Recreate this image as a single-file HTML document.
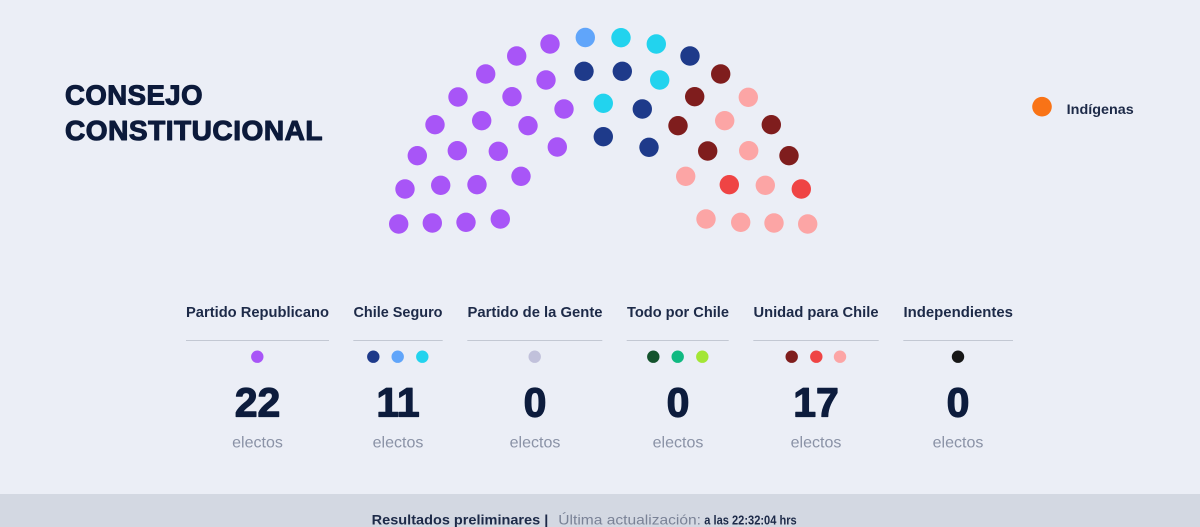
<!DOCTYPE html>
<html>
<head>
<meta charset="utf-8">
<style>
  html,body{margin:0;padding:0;background:#ebeef6;}
  body{width:1200px;height:527px;overflow:hidden;font-family:"Liberation Sans",sans-serif;}
  svg{display:block;}
</style>
</head>
<body>
<svg width="1200" height="527" viewBox="0 0 1200 527" xmlns="http://www.w3.org/2000/svg" font-family="Liberation Sans, sans-serif">
  <rect x="0" y="0" width="1200" height="494" fill="#ebeef6"/>
  <rect x="0" y="494" width="1200" height="33" fill="#d3d8e2"/>

  <!-- Title -->
  <g stroke="#0c1a3b" stroke-width="1.1" stroke-linejoin="round">
  <text x="65" y="104.5" font-size="28" font-weight="bold" fill="#0c1a3b" letter-spacing="0.5" textLength="138" lengthAdjust="spacingAndGlyphs">CONSEJO</text>
  <text x="65" y="140" font-size="28" font-weight="bold" fill="#0c1a3b" letter-spacing="0.5" textLength="258" lengthAdjust="spacingAndGlyphs">CONSTITUCIONAL</text>
  </g>

  <!-- Legend -->
  <circle cx="1042" cy="106.7" r="9.8" fill="#f97316"/>
  <text x="1066.7" y="114" font-size="14" font-weight="bold" fill="#1d2a48" textLength="67" lengthAdjust="spacingAndGlyphs">Indígenas</text>

  <!-- Hemicycle -->
  <g>
    <g fill="#a855f7">
      <circle cx="550" cy="44" r="9.7"/>
      <circle cx="516.7" cy="56" r="9.7"/>
      <circle cx="485.7" cy="74" r="9.7"/>
      <circle cx="546" cy="80" r="9.7"/>
      <circle cx="458" cy="97" r="9.7"/>
      <circle cx="512" cy="96.7" r="9.7"/>
      <circle cx="564" cy="109" r="9.7"/>
      <circle cx="435" cy="124.7" r="9.7"/>
      <circle cx="481.7" cy="120.7" r="9.7"/>
      <circle cx="528" cy="125.7" r="9.7"/>
      <circle cx="417.3" cy="155.7" r="9.7"/>
      <circle cx="457.3" cy="150.7" r="9.7"/>
      <circle cx="498.3" cy="151.3" r="9.7"/>
      <circle cx="557.3" cy="147" r="9.7"/>
      <circle cx="405" cy="189" r="9.7"/>
      <circle cx="440.7" cy="185.3" r="9.7"/>
      <circle cx="477" cy="184.7" r="9.7"/>
      <circle cx="521" cy="176.3" r="9.7"/>
      <circle cx="398.7" cy="224" r="9.7"/>
      <circle cx="432.3" cy="223" r="9.7"/>
      <circle cx="466" cy="222.3" r="9.7"/>
      <circle cx="500.3" cy="219" r="9.7"/>
    </g>
    <circle cx="585.3" cy="37.5" r="9.7" fill="#60a5fa"/>
    <g fill="#1e3a8a">
      <circle cx="584" cy="71.3" r="9.7"/>
      <circle cx="603.3" cy="136.7" r="9.7"/>
      <circle cx="690" cy="56" r="9.7"/>
      <circle cx="622.3" cy="71.3" r="9.7"/>
      <circle cx="642.3" cy="109" r="9.7"/>
      <circle cx="649" cy="147.3" r="9.7"/>
    </g>
    <g fill="#22d3ee">
      <circle cx="603.3" cy="103.3" r="9.7"/>
      <circle cx="621" cy="37.7" r="9.7"/>
      <circle cx="656.3" cy="44" r="9.7"/>
      <circle cx="659.7" cy="80" r="9.7"/>
    </g>
    <g fill="#7f1d1d">
      <circle cx="720.7" cy="74" r="9.7"/>
      <circle cx="694.7" cy="96.7" r="9.7"/>
      <circle cx="678" cy="125.7" r="9.7"/>
      <circle cx="771.3" cy="124.7" r="9.7"/>
      <circle cx="707.7" cy="151" r="9.7"/>
      <circle cx="789" cy="155.7" r="9.7"/>
    </g>
    <g fill="#fca5a5">
      <circle cx="748.3" cy="97.3" r="9.7"/>
      <circle cx="724.7" cy="120.7" r="9.7"/>
      <circle cx="748.7" cy="150.7" r="9.7"/>
      <circle cx="685.7" cy="176.3" r="9.7"/>
      <circle cx="765.3" cy="185.3" r="9.7"/>
      <circle cx="706" cy="219" r="9.7"/>
      <circle cx="740.7" cy="222.3" r="9.7"/>
      <circle cx="774" cy="223" r="9.7"/>
      <circle cx="807.7" cy="224" r="9.7"/>
    </g>
    <g fill="#ef4444">
      <circle cx="729.3" cy="184.7" r="9.7"/>
      <circle cx="801.3" cy="189" r="9.7"/>
    </g>
  </g>

  <!-- Party columns -->
  <g font-weight="bold" font-size="15" fill="#1d2a48">
    <text x="186" y="317" textLength="143" lengthAdjust="spacingAndGlyphs">Partido Republicano</text>
    <text x="353.5" y="317" textLength="89" lengthAdjust="spacingAndGlyphs">Chile Seguro</text>
    <text x="467.5" y="317" textLength="135" lengthAdjust="spacingAndGlyphs">Partido de la Gente</text>
    <text x="627" y="317" textLength="102" lengthAdjust="spacingAndGlyphs">Todo por Chile</text>
    <text x="753.5" y="317" textLength="125" lengthAdjust="spacingAndGlyphs">Unidad para Chile</text>
    <text x="903.5" y="317" textLength="109.5" lengthAdjust="spacingAndGlyphs">Independientes</text>
  </g>
  <g stroke="#c3c8d3" stroke-width="1">
    <line x1="186" y1="340.5" x2="329" y2="340.5"/>
    <line x1="353.3" y1="340.5" x2="442.7" y2="340.5"/>
    <line x1="467.3" y1="340.5" x2="602.3" y2="340.5"/>
    <line x1="626.7" y1="340.5" x2="728.7" y2="340.5"/>
    <line x1="753.3" y1="340.5" x2="878.7" y2="340.5"/>
    <line x1="903.3" y1="340.5" x2="1013" y2="340.5"/>
  </g>
  <g>
    <circle cx="257.3" cy="356.7" r="6.2" fill="#a855f7"/>
    <circle cx="373.3" cy="356.7" r="6.2" fill="#1e3a8a"/>
    <circle cx="397.7" cy="356.7" r="6.2" fill="#60a5fa"/>
    <circle cx="422.3" cy="356.7" r="6.2" fill="#22d3ee"/>
    <circle cx="534.7" cy="356.7" r="6.2" fill="#c1c1db"/>
    <circle cx="653.3" cy="356.7" r="6.2" fill="#14532d"/>
    <circle cx="677.7" cy="356.7" r="6.2" fill="#10b981"/>
    <circle cx="702.3" cy="356.7" r="6.2" fill="#a3e635"/>
    <circle cx="791.7" cy="356.7" r="6.2" fill="#7f1d1d"/>
    <circle cx="816.3" cy="356.7" r="6.2" fill="#ef4444"/>
    <circle cx="840" cy="356.7" r="6.2" fill="#fca5a5"/>
    <circle cx="958" cy="356.7" r="6.2" fill="#171717"/>
  </g>
  <g font-weight="bold" font-size="41" fill="#0d1c3d" text-anchor="middle" stroke="#0d1c3d" stroke-width="1.2" stroke-linejoin="round">
    <text x="257.5" y="416.5">22</text>
    <text x="398" y="416.5">11</text>
    <text x="535" y="416.5">0</text>
    <text x="678" y="416.5">0</text>
    <text x="816" y="416.5">17</text>
    <text x="958" y="416.5">0</text>
  </g>
  <g font-size="16" fill="#8a92a6" text-anchor="middle">
    <text x="257.5" y="447.5">electos</text>
    <text x="398" y="447.5">electos</text>
    <text x="535" y="447.5">electos</text>
    <text x="678" y="447.5">electos</text>
    <text x="816" y="447.5">electos</text>
    <text x="958" y="447.5">electos</text>
  </g>

  <!-- Footer -->
  <g font-size="14">
    <text x="371.7" y="524.5" font-weight="bold" fill="#1d2a48" textLength="176.6" lengthAdjust="spacingAndGlyphs">Resultados preliminares |</text>
    <text x="558.3" y="524.5" fill="#7a8296" textLength="142.7" lengthAdjust="spacingAndGlyphs">Última actualización:</text>
    <text x="704.3" y="524.5" font-size="12.5" font-weight="bold" fill="#1d2a48" textLength="92.4" lengthAdjust="spacingAndGlyphs">a las 22:32:04 hrs</text>
  </g>
</svg>
</body>
</html>
